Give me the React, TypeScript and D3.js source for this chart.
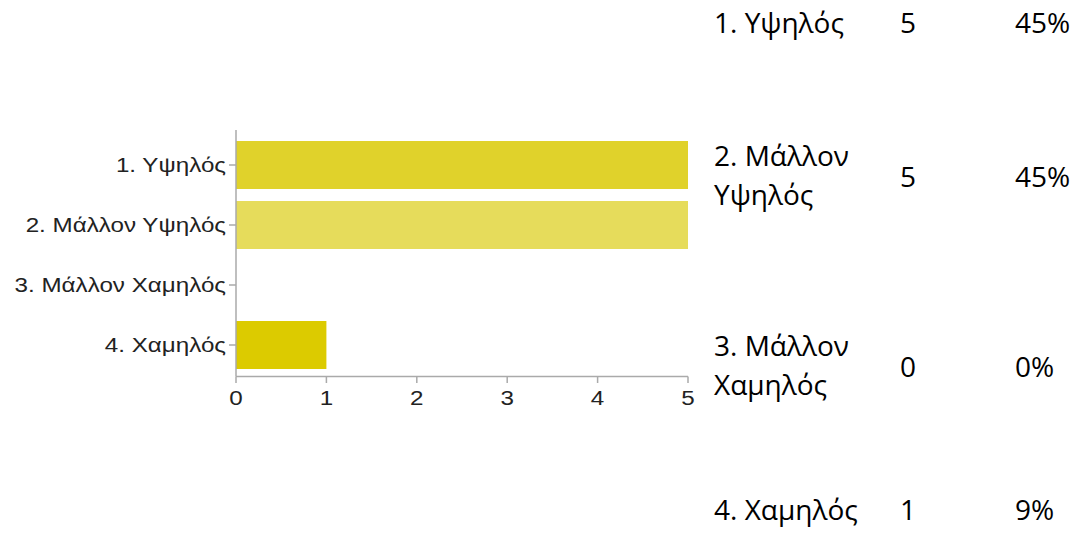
import React from "react";
import * as d3 from "d3";

const categories = ["1. Υψηλός", "2. Μάλλον Υψηλός", "3. Μάλλον Χαμηλός", "4. Χαμηλός"];
const counts = [5, 5, 0, 1];
const barColors = ["#e0d22b", "#e6dc5b", "#e0d22b", "#dccb00"];
const xTicks = [0, 1, 2, 3, 4, 5];
const tableLabels = [["1. Υψηλός"], ["2. Μάλλον", "Υψηλός"], ["3. Μάλλον", "Χαμηλός"], ["4. Χαμηλός"]];

const W = 1075;
const H = 536;
const rowBaselines = [33, 187, 377, 520];
const STRETCH = 1.21;

export default function App() {
  const x = d3.scaleLinear().domain([0, 5]).range([236, 688]);
  const y = d3.scaleBand<string>().domain(categories).range([135, 375]).paddingInner(0.2).paddingOuter(0.1);
  const total = d3.sum(counts);
  const axisColor = "#aaaaaa";
  const labelFont = "'Liberation Sans', Arial, sans-serif";
  const tableFont = "'Open Sans', 'Noto Sans', sans-serif";
  return (
    <svg width={W} height={H} style={{ position: "absolute", left: 0, top: 0, background: "#fff" }}>
      {categories.map((c, i) =>
        counts[i] > 0 ? (
          <rect key={c} x={x(0)} y={y(c)!} width={x(counts[i]) - x(0)} height={y.bandwidth()} fill={barColors[i]} />
        ) : null
      )}
      <line x1={x(0)} x2={x(0)} y1={130} y2={376.5} stroke={axisColor} strokeWidth={1.5} />
      <line x1={x(0)} x2={x(5)} y1={376.5} y2={376.5} stroke={axisColor} strokeWidth={1.5} />
      {categories.map((c) => {
        const cy = y(c)! + y.bandwidth() / 2;
        return (
          <g key={c}>
            <line x1={x(0) - 7} x2={x(0)} y1={cy} y2={cy} stroke={axisColor} strokeWidth={1.5} />
            <text
              transform={`translate(${x(0) - 10},${cy}) scale(${STRETCH},1)`}
              dy="0.35em"
              textAnchor="end"
              fontFamily={labelFont}
              fontSize={20}
              fill="#222"
            >
              {c}
            </text>
          </g>
        );
      })}
      {xTicks.map((t) => (
        <g key={t}>
          <line x1={x(t)} x2={x(t)} y1={376.5} y2={383} stroke={axisColor} strokeWidth={1.5} />
          <text
            transform={`translate(${x(t)},405) scale(${STRETCH},1)`}
            textAnchor="middle"
            fontFamily={labelFont}
            fontSize={20}
            fill="#222"
          >
            {t}
          </text>
        </g>
      ))}
      {tableLabels.map((lines, i) => {
        const b = rowBaselines[i];
        return (
          <g key={i} fontFamily={tableFont} fontSize={28} fill="#000">
            {lines.map((ln, j) => (
              <text key={j} x={714} y={lines.length === 1 ? b : b - 21 + j * 39}>
                {ln}
              </text>
            ))}
            <text x={900} y={b}>{counts[i]}</text>
            <text x={1015} y={b}>{Math.round((counts[i] / total) * 100)}%</text>
          </g>
        );
      })}
    </svg>
  );
}
